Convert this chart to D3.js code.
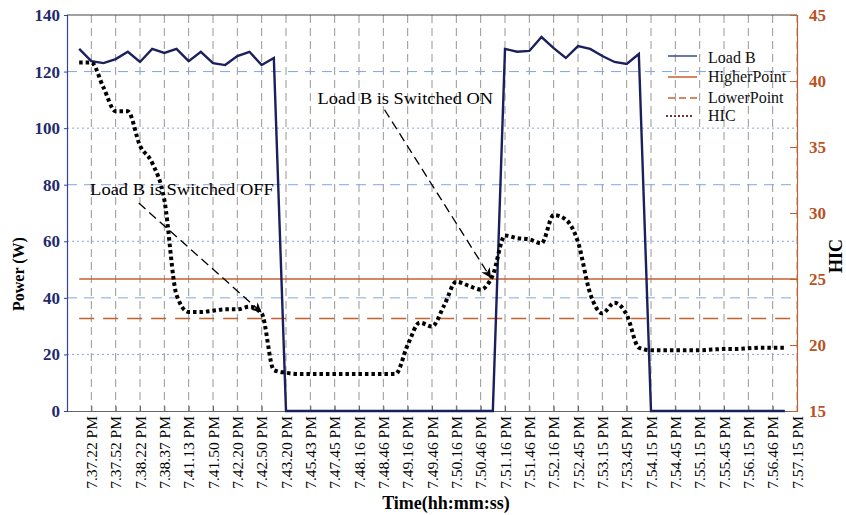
<!DOCTYPE html>
<html><head><meta charset="utf-8">
<script src="https://cdn.jsdelivr.net/npm/d3@7/dist/d3.min.js"></script>
<style>body{margin:0;background:#fff}svg{display:block}</style>
</head><body><svg id="c" width="846" height="515"></svg>
<script>
// ---- data ----
const timeLabels = ["7.37.22 PM","7.37.52 PM","7.38.22 PM","7.38.37 PM","7.41.13 PM","7.41.50 PM","7.42.20 PM","7.42.50 PM","7.43.20 PM","7.45.43 PM","7.47.45 PM","7.48.16 PM","7.48.46 PM","7.49.16 PM","7.49.46 PM","7.50.16 PM","7.50.46 PM","7.51.16 PM","7.51.46 PM","7.52.16 PM","7.52.45 PM","7.53.15 PM","7.53.45 PM","7.54.15 PM","7.54.45 PM","7.55.15 PM","7.55.45 PM","7.56.15 PM","7.56.46 PM","7.57.15 PM"];
// sample positions in tick-index units (samples every half tick)
const samplePos = [-0.5,0,0.5,1,1.5,2,2.5,3,3.5,4,4.5,5,5.5,6,6.5,7,7.5,8,8.5,9,9.5,10,10.5,11,11.5,12,12.5,13,13.5,14,14.5,15,15.5,16,16.5,17,17.5,18,18.5,19,19.5,20,20.5,21,21.5,22,22.5,23,23.5,24,24.5,25,25.5,26,26.5,27,27.5,28,28.5];
const loadB = [128,123.7,123,124.4,127,123.4,128,126.6,128,123.7,127,123,122.3,125.5,127,122.3,124.8,
  0,0,0,0,0,0,0,0,0,0,0,0,0,0,0,0,0,0,
  128,127,127.3,132.2,128.3,124.8,129,128,125.5,123.4,122.7,126.2,
  0,0,0,0,0,0,0,0,0,0,0,0];
const hic = [41.4,41.4,39.5,37.7,37.7,35.1,33.8,31.0,23.8,22.5,22.5,22.6,22.7,22.7,22.9,22.4,18.1,
  17.9,17.8,17.8,17.8,17.8,17.8,17.8,17.8,17.8,17.8,
  20.0,21.7,21.4,23.0,24.8,24.5,24.2,25.3,
  28.3,28.1,28.0,27.7,29.85,29.5,27.8,23.9,22.4,23.2,22.3,19.8,
  19.6,19.6,19.6,19.6,19.6,19.65,19.7,19.7,19.75,19.8,19.8,19.8];
const higherPoint = 25, lowerPoint = 22;
const powerTicks = [0,20,40,60,80,100,120,140];
const hicTicks = [15,20,25,30,35,40,45];
const legendItems = ["Load B","HigherPoint","LowerPoint","HIC"];
const annotations = [
  {text:"Load B is Switched OFF", tx:-0.05, tp:76.5, from:[1.95,73.5], to:[7.0,34.8]},
  {text:"Load B is Switched ON", tx:9.3, tp:108.5, from:[12.05,106.5], to:[16.42,47.0]}
];

// ---- layout ----
const L = 67, R = 797, T = 15, B = 411;
const svg = d3.select("#c");
const serif = "'Liberation Serif','Times New Roman',serif";
const navy = "#1b1f5c", orange = "#c8602e", axisNavy = "#3344a0";

const x = d3.scaleLinear().domain([-1, 29]).range([L, R]);
const yP = d3.scaleLinear().domain([0, 140]).range([B, T]);
const yH = d3.scaleLinear().domain([15, 45]).range([B, T]);

svg.append("defs").append("marker").attr("id","ah")
  .attr("viewBox","0 0 10 10").attr("refX",10).attr("refY",5)
  .attr("markerWidth",13).attr("markerHeight",10).attr("markerUnits","userSpaceOnUse")
  .attr("orient","auto")
  .append("path").attr("d","M0,0 L10,5 L0,10 L3,5 Z").attr("fill","#000");

// vertical grid
svg.append("g").selectAll("line").data(d3.range(timeLabels.length)).join("line")
  .attr("x1", d => x(d)).attr("x2", d => x(d)).attr("y1", T).attr("y2", B)
  .attr("stroke","#8a8a8a").attr("stroke-width",0.9).attr("stroke-dasharray","8,5");
// horizontal grid (left axis)
svg.append("g").selectAll("line").data(powerTicks.filter(v => v > 0 && v < 140)).join("line")
  .attr("x1", L).attr("x2", R).attr("y1", d => yP(d)).attr("y2", d => yP(d))
  .attr("stroke","#86a4e2").attr("stroke-width",1)
  .attr("stroke-dasharray", (d,i) => i % 2 ? "10,7" : "2,3");

// top border
svg.append("line").attr("x1",L).attr("x2",R).attr("y1",T).attr("y2",T).attr("stroke","#444").attr("stroke-width",1.2);

// bottom axis
const xAxis = d3.axisBottom(x).tickValues(d3.range(timeLabels.length)).tickSize(-5).tickFormat(d => timeLabels[d]);
const gx = svg.append("g").attr("transform",`translate(0,${B})`).call(xAxis);
gx.select(".domain").attr("stroke","#666");
gx.selectAll(".tick line").attr("stroke","#666");
gx.selectAll("text").attr("font-family",serif).attr("font-size",15.5).attr("fill","#000")
  .attr("transform","rotate(-90)").attr("text-anchor","end").attr("dy","0.33em").attr("x",-5).attr("y",0);

// left axis
const gl = svg.append("g").attr("transform",`translate(${L},0)`).call(d3.axisLeft(yP).tickValues(powerTicks).tickSize(3).tickPadding(4));
gl.select(".domain").attr("stroke",axisNavy).attr("stroke-width",1.2);
gl.selectAll(".tick line").attr("stroke",axisNavy);
gl.selectAll("text").attr("font-family",serif).attr("font-size",17).attr("font-weight","bold").attr("fill","#1f2a6e");

// right axis
const gr = svg.append("g").attr("transform",`translate(${R},0)`).call(d3.axisRight(yH).tickValues(hicTicks).tickSize(-7).tickPadding(12));
gr.select(".domain").attr("stroke",orange).attr("stroke-width",1.2);
gr.selectAll(".tick line").attr("stroke",orange);
gr.selectAll("text").attr("font-family",serif).attr("font-size",17).attr("font-weight","bold").attr("fill","#b9531f");

// reference lines
svg.append("line").attr("x1",x(-0.5)).attr("x2",x(29)).attr("y1",yH(higherPoint)).attr("y2",yH(higherPoint))
  .attr("stroke",orange).attr("stroke-width",1.5);
svg.append("line").attr("x1",x(-0.5)).attr("x2",x(29)).attr("y1",yH(lowerPoint)).attr("y2",yH(lowerPoint))
  .attr("stroke",orange).attr("stroke-width",1.5).attr("stroke-dasharray","15,9");

// Load B
svg.append("path").datum(loadB).attr("fill","none").attr("stroke",navy).attr("stroke-width",2.4)
  .attr("stroke-linejoin","miter")
  .attr("d", d3.line().x((d,i) => x(samplePos[i])).y(d => yP(d)));

// HIC
svg.append("path").datum(hic).attr("fill","none").attr("stroke","#000").attr("stroke-width",4)
  .attr("stroke-dasharray","3.5,3")
  .attr("d", d3.line().curve(d3.curveMonotoneX).x((d,i) => x(samplePos[i])).y(d => yH(d)));

// annotations
annotations.forEach(a => {
  svg.append("text").attr("x", x(a.tx)).attr("y", yP(a.tp)).text(a.text)
    .attr("font-family",serif).attr("font-size",16)
    .attr("textLength", a.text.length * 8.35).attr("lengthAdjust","spacingAndGlyphs");
  svg.append("line").attr("x1",x(a.from[0])).attr("y1",yP(a.from[1])).attr("x2",x(a.to[0])).attr("y2",yP(a.to[1]))
    .attr("stroke","#000").attr("stroke-width",1.3).attr("stroke-dasharray","9,5").attr("marker-end","url(#ah)");
});

// legend
const lg = svg.append("g").attr("transform","translate(668,56)");
const rowY = [0,21,42,60];
const styles = [
  {stroke:"#3a4a8a", w:1.5, dash:null},
  {stroke:orange, w:1.5, dash:null},
  {stroke:orange, w:1.5, dash:"7,4"},
  {stroke:"#7a2e2e", w:2, dash:"2,2"}
];
legendItems.forEach((name,i) => {
  const s = styles[i];
  lg.append("line").attr("x1", i===3 ? -2 : 0).attr("x2", i===3 ? 26 : 29).attr("y1",rowY[i]).attr("y2",rowY[i])
    .attr("stroke",s.stroke).attr("stroke-width",s.w).attr("stroke-dasharray",s.dash);
  lg.append("text").attr("x",40).attr("y",rowY[i]+ (i===0?7:5)).text(name)
    .attr("font-family",serif).attr("font-size",16).attr("fill","#111");
});

// axis titles
svg.append("text").attr("transform","translate(24,274) rotate(-90)").attr("text-anchor","middle")
  .attr("font-family",serif).attr("font-size",16).attr("font-weight","bold").text("Power (W)");
svg.append("text").attr("transform","translate(842,256) rotate(-90)").attr("text-anchor","middle")
  .attr("font-family",serif).attr("font-size",18).attr("font-weight","bold").text("HIC");
svg.append("text").attr("x",446).attr("y",509).attr("text-anchor","middle")
  .attr("font-family",serif).attr("font-size",18).attr("font-weight","bold").text("Time(hh:mm:ss)");
</script></body></html>
